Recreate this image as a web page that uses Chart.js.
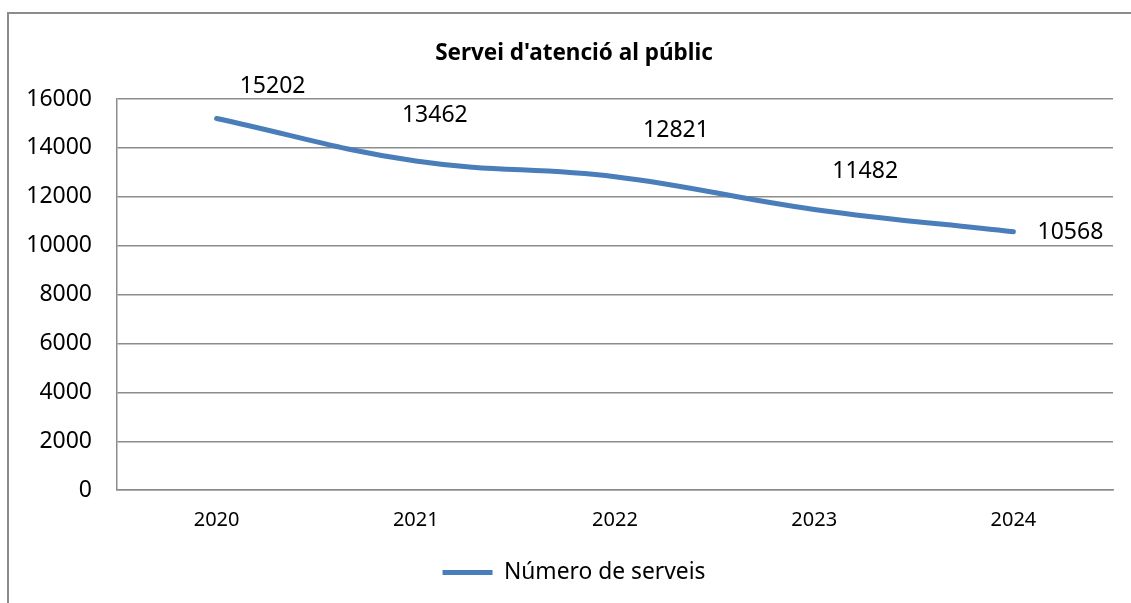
<!DOCTYPE html>
<html>
<head>
<meta charset="utf-8">
<script src="https://cdn.jsdelivr.net/npm/chart.js@4.4.1/dist/chart.umd.min.js"></script>
<style>
  html,body{margin:0;padding:0;background:#fff;overflow:hidden;width:1131px;height:603px;}
  #box{position:absolute;left:7px;top:12px;width:1130px;height:600px;border:2px solid #8c8c8c;background:#fff;}
  canvas{display:block;}
</style>
</head>
<body>
<div id="box"><canvas id="c" width="1130" height="600"></canvas></div>
<script>
// ===== 資料 =====
const years = ['2020', '2021', '2022', '2023', '2024'];
const serveis = [15202, 13462, 12821, 11482, 10568];
const Y_MIN = 0, Y_MAX = 16000, Y_STEP = 2000;
const TITLE = "Servei d'atenció al públic";
const SERIES = 'Número de serveis';

// 標籤相對於點的位移 (dx, dy)
const labelShift = [[56, -32], [19, -46], [61, -46], [51, -38], [57, 1]];

const FONT = "'Noto Sans', sans-serif";
const BLUE = '#4a7ebb', GRID = '#8c8c8c';

// ===== 外掛 =====
const valLabels = {
  id: 'valLabels',
  afterDatasetsDraw(c) {
    const { ctx } = c, meta = c.getDatasetMeta(0);
    ctx.save();
    ctx.font = `23px ${FONT}`; ctx.fillStyle = '#000';
    ctx.textAlign = 'center'; ctx.textBaseline = 'middle';
    meta.data.forEach((p, i) => ctx.fillText(serveis[i], p.x + labelShift[i][0], p.y + labelShift[i][1]));
    ctx.restore();
  }
};

// ===== 圖表 =====
new Chart(document.getElementById('c'), {
  type: 'line',
  data: {
    labels: years,
    datasets: [{
      label: SERIES, data: serveis,
      borderColor: BLUE, backgroundColor: BLUE, borderWidth: 5,
      borderCapStyle: 'round', tension: 0.4, pointRadius: 0, fill: false
    }]
  },
  options: {
    responsive: false, animation: false,
    layout: { padding: { left: 0, right: 0, top: 0, bottom: 20 } },
    plugins: {
      title: { display: true, text: TITLE, color: '#000', font: { family: FONT, size: 22.5, weight: 'bold' }, padding: { top: 26, bottom: 32 } },
      legend: {
        position: 'bottom',
        labels: { usePointStyle: true, pointStyle: 'line', pointStyleWidth: 50, padding: 17, color: '#000', font: { family: FONT, size: 22.8 } }
      },
      tooltip: { enabled: false }
    },
    scales: {
      x: {
        offset: true,
        grid: { display: false, drawTicks: false, offset: true },
        border: { display: true, color: GRID, width: 1.5 },
        ticks: { color: '#000', padding: 18, font: { family: FONT, size: 20 } },
        afterFit: s => { s.height = 54; }
      },
      y: {
        min: Y_MIN, max: Y_MAX,
        grid: { color: GRID, lineWidth: 1.5, drawTicks: false },
        border: { display: true, color: GRID, width: 1.5 },
        ticks: { stepSize: Y_STEP, color: '#000', padding: 25, font: { family: FONT, size: 23 }, callback: v => String(v) },
        afterFit: s => { s.width = 108; }
      },
      // 右側留白用，不畫任何東西
      yR: {
        position: 'right',
        grid: { display: false, drawTicks: false },
        border: { display: false },
        ticks: { display: false },
        afterFit: s => { s.width = 26; }
      }
    }
  },
  plugins: [valLabels]
});
</script>
</body>
</html>
